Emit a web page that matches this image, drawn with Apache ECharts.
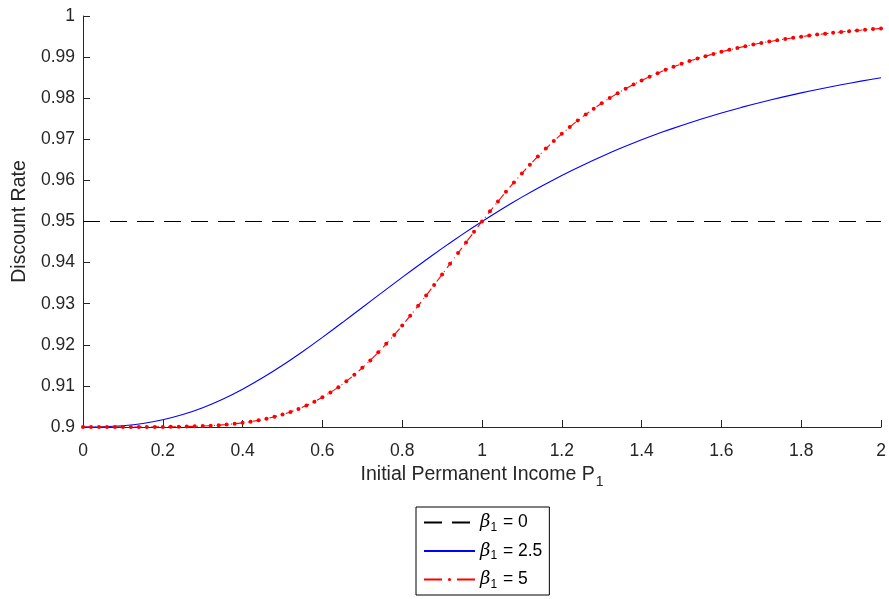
<!DOCTYPE html>
<html>
<head>
<meta charset="utf-8">
<script src="https://cdn.jsdelivr.net/npm/echarts@6/dist/echarts.min.js"></script>
<style>
  html, body { margin: 0; padding: 0; background: #fff; }
  #main { width: 889px; height: 599px; }
</style>
</head>
<body>
<div id="main"></div>
<script>
// 数据
var incomeFine = [0, 0.02, 0.04, 0.06, 0.08, 0.1, 0.12, 0.14, 0.16, 0.18,
  0.2, 0.22, 0.24, 0.26, 0.28, 0.3, 0.32, 0.34, 0.36, 0.38,
  0.4, 0.42, 0.44, 0.46, 0.48, 0.5, 0.52, 0.54, 0.56, 0.58,
  0.6, 0.62, 0.64, 0.66, 0.68, 0.7, 0.72, 0.74, 0.76, 0.78,
  0.8, 0.82, 0.84, 0.86, 0.88, 0.9, 0.92, 0.94, 0.96, 0.98,
  1, 1.02, 1.04, 1.06, 1.08, 1.1, 1.12, 1.14, 1.16, 1.18,
  1.2, 1.22, 1.24, 1.26, 1.28, 1.3, 1.32, 1.34, 1.36, 1.38,
  1.4, 1.42, 1.44, 1.46, 1.48, 1.5, 1.52, 1.54, 1.56, 1.58,
  1.6, 1.62, 1.64, 1.66, 1.68, 1.7, 1.72, 1.74, 1.76, 1.78,
  1.8, 1.82, 1.84, 1.86, 1.88, 1.9, 1.92, 1.94, 1.96, 1.98, 2];

var rateBeta5 = [0.9, 0.9, 0.9, 0.9, 0.9, 0.9, 0.9, 0.90001, 0.90001, 0.90002,
  0.90003, 0.90005, 0.90008, 0.90012, 0.90017, 0.90024, 0.90033, 0.90045, 0.9006, 0.90079,
  0.90101, 0.90129, 0.90162, 0.90202, 0.90248, 0.90303, 0.90366, 0.90439, 0.90522, 0.90616,
  0.90722, 0.90839, 0.9097, 0.91113, 0.91269, 0.91439, 0.91621, 0.91816, 0.92023, 0.9224,
  0.92468, 0.92705, 0.92949, 0.93199, 0.93454, 0.93713, 0.93973, 0.94233, 0.94492, 0.94748,
  0.95, 0.95247, 0.95489, 0.95723, 0.9595, 0.96169, 0.9638, 0.96582, 0.96775, 0.96958,
  0.97133, 0.97299, 0.97457, 0.97605, 0.97746, 0.97878, 0.98003, 0.9812, 0.98231, 0.98335,
  0.98432, 0.98524, 0.98609, 0.9869, 0.98766, 0.98836, 0.98903, 0.98965, 0.99023, 0.99078,
  0.99129, 0.99177, 0.99223, 0.99265, 0.99305, 0.99342, 0.99377, 0.9941, 0.99441, 0.9947,
  0.99497, 0.99523, 0.99547, 0.9957, 0.99592, 0.99612, 0.99631, 0.99649, 0.99666, 0.99682, 0.99697];

var incomeCoarse = [0, 0.05, 0.1, 0.15, 0.2, 0.25, 0.3, 0.35, 0.4, 0.45,
  0.5, 0.55, 0.6, 0.65, 0.7, 0.75, 0.8, 0.85, 0.9, 0.95,
  1, 1.05, 1.1, 1.15, 1.2, 1.25, 1.3, 1.35, 1.4, 1.45,
  1.5, 1.55, 1.6, 1.65, 1.7, 1.75, 1.8, 1.85, 1.9, 1.95, 2];

var rateBeta25 = [0.9, 0.90006, 0.90032, 0.90086, 0.90176, 0.90303, 0.9047, 0.90676, 0.90919, 0.91196,
  0.91502, 0.91832, 0.9218, 0.92541, 0.92908, 0.93276, 0.9364, 0.93998, 0.94345, 0.9468,
  0.95, 0.95305, 0.95593, 0.95865, 0.9612, 0.96359, 0.96583, 0.96792, 0.96987, 0.97169,
  0.97337, 0.97494, 0.9764, 0.97776, 0.97903, 0.9802, 0.9813, 0.98232, 0.98327, 0.98415, 0.98498];

var incomeFlat = [0, 2];
var rateBeta0 = [0.95, 0.95];

var legendLabels = { b0: '0', b25: '2.5', b5: '5' };

function pairs(xs, ys) {
  var out = [];
  for (var i = 0; i < xs.length; i++) out.push([xs[i], ys[i]]);
  return out;
}

var myChart = echarts.init(document.getElementById('main'));

var font = 'Liberation Sans, Arial, Helvetica, sans-serif';
var ink = '#262626';

var option = {
  animation: false,
  backgroundColor: '#fff',
  textStyle: { fontFamily: font, color: ink },
  grid: { left: 83, right: 8, top: 16, bottom: 172 },
  xAxis: {
    type: 'value',
    min: 0,
    max: 2,
    interval: 0.2,
    name: '{a|Initial Permanent Income P}{s|1}',
    nameLocation: 'middle',
    nameGap: 33,
    nameTextStyle: {
      rich: {
        a: { fontSize: 19.5, color: ink, fontFamily: font },
        s: { fontSize: 14, color: ink, fontFamily: font, padding: [14, 0, 0, 1] }
      }
    },
    axisLine: { lineStyle: { color: ink, width: 1 } },
    axisTick: { inside: true, length: 7, lineStyle: { color: ink } },
    axisLabel: { fontSize: 17.5, color: ink, margin: 15 },
    splitLine: { show: false }
  },
  yAxis: {
    type: 'value',
    min: 0.9,
    max: 1,
    interval: 0.01,
    name: 'Discount Rate',
    nameLocation: 'middle',
    nameGap: 49,
    nameTextStyle: { fontSize: 19.5, color: ink },
    axisLine: { show: true, lineStyle: { color: ink, width: 1 } },
    axisTick: { show: true, inside: true, length: 7, lineStyle: { color: ink } },
    axisLabel: { fontSize: 17.5, color: ink, margin: 8 },
    splitLine: { show: false }
  },
  legend: {
    type: 'plain',
    orient: 'vertical',
    left: 416,
    top: 507,
    height: 120,
    padding: [4.5, 7, 4.5, 7],
    itemGap: 6.5,
    itemWidth: 51,
    itemHeight: 4,
    borderColor: '#000',
    borderWidth: 1,
    borderRadius: 0,
    data: [
      { name: 'b0', itemStyle: { opacity: 0 }, lineStyle: { type: [18, 10] } },
      { name: 'b25', itemStyle: { opacity: 0 } },
      { name: 'b5', lineStyle: { type: [18, 15] } }
    ],
    formatter: function (name) {
      return '{g|β}{s|1}{t| = ' + legendLabels[name] + '}';
    },
    textStyle: {
      rich: {
        g: { fontSize: 18, lineHeight: 20, fontStyle: 'italic', color: '#000', fontFamily: 'DejaVu Serif, serif' },
        s: { fontSize: 12, lineHeight: 12, color: '#000', fontFamily: font, padding: [10, 1, 0, 0] },
        t: { fontSize: 17.5, lineHeight: 20, color: '#000', fontFamily: font }
      }
    }
  },
  series: [
    {
      name: 'b0',
      type: 'line',
      data: pairs(incomeFlat, rateBeta0),
      symbol: 'none',
      lineStyle: { color: '#000', width: 1.2, type: [17, 10] },
      itemStyle: { color: '#000' }
    },
    {
      name: 'b25',
      type: 'line',
      data: pairs(incomeCoarse, rateBeta25),
      symbol: 'none',
      smooth: 0.2,
      lineStyle: { color: '#0000ff', width: 1.1 },
      itemStyle: { color: '#0000ff' }
    },
    {
      name: 'b5',
      type: 'line',
      data: pairs(incomeFine, rateBeta5),
      symbol: 'circle',
      symbolSize: 4,
      lineStyle: { color: '#ff0000', width: 1.1, type: [8, 4, 1, 4] },
      itemStyle: { color: '#ff0000' }
    }
  ]
};

myChart.setOption(option);

window.addEventListener('resize', function () {
  myChart.resize();
});
</script>
</body>
</html>
